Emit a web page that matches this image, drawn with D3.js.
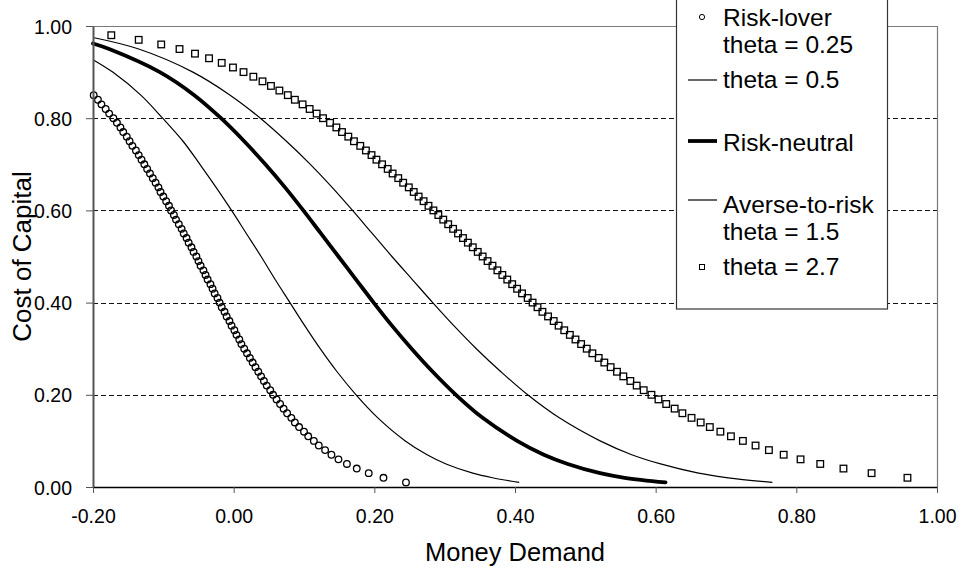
<!DOCTYPE html>
<html>
<head>
<meta charset="utf-8">
<script src="https://d3js.org/d3.v7.min.js"></script>
<style>
  body { margin: 0; background: #fff; }
  svg text { font-family: "Liberation Sans", Arial, Helvetica, sans-serif; fill: #000; }
</style>
</head>
<body>
<svg id="chart" width="961" height="573"></svg>
<script>
(function() {
  'use strict';

  // ---- data ----
  var xTicks = [-0.2, 0, 0.2, 0.4, 0.6, 0.8, 1.0];
  var yTicks = [0, 0.2, 0.4, 0.6, 0.8, 1.0];

  // Risk-lover, theta = 0.25 (circles)
  var loverCost = [0.85, 0.84, 0.83, 0.82, 0.81, 0.80, 0.79, 0.78, 0.77, 0.76,
    0.75, 0.74, 0.73, 0.72, 0.71, 0.70, 0.69, 0.68, 0.67, 0.66,
    0.65, 0.64, 0.63, 0.62, 0.61, 0.60, 0.59, 0.58, 0.57, 0.56,
    0.55, 0.54, 0.53, 0.52, 0.51, 0.50, 0.49, 0.48, 0.47, 0.46,
    0.45, 0.44, 0.43, 0.42, 0.41, 0.40, 0.39, 0.38, 0.37, 0.36,
    0.35, 0.34, 0.33, 0.32, 0.31, 0.30, 0.29, 0.28, 0.27, 0.26,
    0.25, 0.24, 0.23, 0.22, 0.21, 0.20, 0.19, 0.18, 0.17, 0.16,
    0.15, 0.14, 0.13, 0.12, 0.11, 0.10, 0.09, 0.08, 0.07, 0.06,
    0.05, 0.04, 0.03, 0.02, 0.01];
  var loverDemand = [-0.199, -0.193, -0.188, -0.182, -0.177, -0.171, -0.166, -0.161, -0.157, -0.152,
    -0.148, -0.144, -0.139, -0.135, -0.131, -0.127, -0.123, -0.119, -0.115, -0.111,
    -0.107, -0.104, -0.100, -0.096, -0.092, -0.089, -0.085, -0.082, -0.078, -0.074,
    -0.071, -0.067, -0.064, -0.060, -0.057, -0.053, -0.050, -0.047, -0.043, -0.040,
    -0.037, -0.033, -0.030, -0.027, -0.023, -0.020, -0.017, -0.013, -0.010, -0.006,
    -0.003, 0.001, 0.004, 0.008, 0.011, 0.015, 0.019, 0.023, 0.027, 0.031,
    0.035, 0.039, 0.043, 0.047, 0.052, 0.056, 0.061, 0.066, 0.071, 0.076,
    0.082, 0.087, 0.093, 0.100, 0.106, 0.114, 0.121, 0.130, 0.139, 0.149,
    0.161, 0.175, 0.192, 0.213, 0.245];

  // theta = 2.7 (squares)
  var squareCost = [0.98, 0.97, 0.96, 0.95, 0.94, 0.93, 0.92, 0.91, 0.90, 0.89,
    0.88, 0.87, 0.86, 0.85, 0.84, 0.83, 0.82, 0.81, 0.80, 0.79,
    0.78, 0.77, 0.76, 0.75, 0.74, 0.73, 0.72, 0.71, 0.70, 0.69,
    0.68, 0.67, 0.66, 0.65, 0.64, 0.63, 0.62, 0.61, 0.60, 0.59,
    0.58, 0.57, 0.56, 0.55, 0.54, 0.53, 0.52, 0.51, 0.50, 0.49,
    0.48, 0.47, 0.46, 0.45, 0.44, 0.43, 0.42, 0.41, 0.40, 0.39,
    0.38, 0.37, 0.36, 0.35, 0.34, 0.33, 0.32, 0.31, 0.30, 0.29,
    0.28, 0.27, 0.26, 0.25, 0.24, 0.23, 0.22, 0.21, 0.20, 0.19,
    0.18, 0.17, 0.16, 0.15, 0.14, 0.13, 0.12, 0.11, 0.10, 0.09,
    0.08, 0.07, 0.06, 0.05, 0.04, 0.03, 0.02];
  var squareDemand = [-0.174, -0.135, -0.103, -0.077, -0.055, -0.035, -0.017, -0.001, 0.014, 0.028,
    0.041, 0.053, 0.065, 0.077, 0.087, 0.098, 0.108, 0.118, 0.127, 0.137,
    0.146, 0.154, 0.163, 0.171, 0.180, 0.188, 0.196, 0.203, 0.211, 0.219,
    0.226, 0.234, 0.241, 0.249, 0.256, 0.263, 0.270, 0.277, 0.284, 0.291,
    0.298, 0.305, 0.312, 0.319, 0.326, 0.333, 0.340, 0.347, 0.354, 0.361,
    0.368, 0.375, 0.382, 0.389, 0.396, 0.403, 0.410, 0.418, 0.425, 0.432,
    0.439, 0.447, 0.455, 0.462, 0.470, 0.478, 0.486, 0.494, 0.502, 0.510,
    0.519, 0.527, 0.536, 0.545, 0.554, 0.564, 0.573, 0.583, 0.594, 0.604,
    0.615, 0.627, 0.638, 0.651, 0.664, 0.677, 0.692, 0.707, 0.724, 0.742,
    0.761, 0.782, 0.806, 0.834, 0.867, 0.907, 0.958];

  // thin line, left of the risk-neutral curve
  var thinLeftCost = [0.927, 0.90, 0.85, 0.80, 0.75, 0.70, 0.65, 0.60, 0.55, 0.50,
    0.45, 0.40, 0.35, 0.30, 0.25, 0.20, 0.15, 0.10, 0.07, 0.05, 0.03, 0.02, 0.01];
  var thinLeftDemand = [-0.200, -0.172, -0.132, -0.101, -0.072, -0.048, -0.025, -0.003, 0.018, 0.039,
    0.059, 0.080, 0.101, 0.123, 0.147, 0.174, 0.205, 0.244, 0.275, 0.302, 0.340, 0.368, 0.406];

  // Risk-neutral (thick line)
  var neutralCost = [0.962, 0.95, 0.90, 0.85, 0.80, 0.75, 0.70, 0.65, 0.60, 0.55, 0.50,
    0.45, 0.40, 0.35, 0.30, 0.25, 0.20, 0.15, 0.10, 0.07, 0.05, 0.03, 0.02, 0.01];
  var neutralDemand = [-0.200, -0.177, -0.105, -0.056, -0.018, 0.015, 0.045, 0.073, 0.099, 0.124, 0.149,
    0.174, 0.199, 0.225, 0.253, 0.283, 0.316, 0.354, 0.403, 0.441, 0.475, 0.521, 0.556, 0.614];

  // thin line, right of the risk-neutral curve
  var thinRightCost = [0.975, 0.95, 0.90, 0.85, 0.80, 0.75, 0.70, 0.65, 0.60, 0.55, 0.50,
    0.45, 0.40, 0.35, 0.30, 0.25, 0.20, 0.15, 0.10, 0.07, 0.05, 0.03, 0.02, 0.01];
  var thinRightDemand = [-0.200, -0.135, -0.058, -0.005, 0.038, 0.075, 0.109, 0.140, 0.169, 0.197, 0.225,
    0.254, 0.283, 0.313, 0.345, 0.380, 0.418, 0.463, 0.521, 0.566, 0.607, 0.661, 0.703, 0.766];

  var legendLabels = [
    ['Risk-lover', 'theta = 0.25'],
    ['theta = 0.5'],
    ['Risk-neutral'],
    ['Averse-to-risk', 'theta = 1.5'],
    ['theta = 2.7']
  ];

  var zip = function(xs, ys) {
    return xs.map(function(x, i) { return [x, ys[i]]; });
  };

  // ---- layout ----
  var svg = d3.select('#chart');
  var left = 93, right = 937, top = 26, bottom = 487;

  var x = d3.scaleLinear().domain([-0.2, 1.0]).range([left, right]);
  var y = d3.scaleLinear().domain([0, 1]).range([bottom, top]);
  var crisp = function(v) { return Math.round(v) + 0.5; };

  // gridlines
  svg.append('g')
    .selectAll('line')
    .data(yTicks.filter(function(d) { return d > 0 && d < 1; }))
    .enter().append('line')
    .attr('x1', left).attr('x2', right)
    .attr('y1', function(d) { return crisp(y(d)); })
    .attr('y2', function(d) { return crisp(y(d)); })
    .attr('stroke', '#111')
    .attr('stroke-width', 1)
    .attr('stroke-dasharray', '5,3');

  // top and right frame of the plot area
  svg.append('line')
    .attr('x1', left).attr('x2', right).attr('y1', crisp(y(1))).attr('y2', crisp(y(1)))
    .attr('stroke', '#7a7a7a').attr('stroke-width', 1.2);
  svg.append('line')
    .attr('x1', crisp(right)).attr('x2', crisp(right)).attr('y1', y(1)).attr('y2', bottom)
    .attr('stroke', '#7a7a7a').attr('stroke-width', 1.2);

  // curves
  var line = d3.line()
    .x(function(d) { return x(d[0]); })
    .y(function(d) { return y(d[1]); })
    .curve(d3.curveCatmullRom);

  svg.append('path')
    .datum(zip(thinLeftDemand, thinLeftCost))
    .attr('d', line)
    .attr('fill', 'none').attr('stroke', '#000').attr('stroke-width', 1.2);

  svg.append('path')
    .datum(zip(thinRightDemand, thinRightCost))
    .attr('d', line)
    .attr('fill', 'none').attr('stroke', '#000').attr('stroke-width', 1.2);

  svg.append('path')
    .datum(zip(neutralDemand, neutralCost))
    .attr('d', line)
    .attr('fill', 'none').attr('stroke', '#000').attr('stroke-width', 3.8)
    .attr('stroke-linecap', 'round');

  // markers
  svg.append('g')
    .selectAll('circle')
    .data(zip(loverDemand, loverCost))
    .enter().append('circle')
    .attr('cx', function(d) { return x(d[0]); })
    .attr('cy', function(d) { return y(d[1]); })
    .attr('r', 3.3)
    .attr('fill', 'none')
    .attr('stroke', '#000')
    .attr('stroke-width', 1.3);

  var sq = 6.6;
  svg.append('g')
    .selectAll('rect')
    .data(zip(squareDemand, squareCost))
    .enter().append('rect')
    .attr('x', function(d) { return x(d[0]) - sq / 2; })
    .attr('y', function(d) { return y(d[1]) - sq / 2; })
    .attr('width', sq).attr('height', sq)
    .attr('fill', 'none')
    .attr('stroke', '#000')
    .attr('stroke-width', 1.3);

  // axes
  var fmt = function(d) { return d.toFixed(2); };

  var yAxis = svg.append('g')
    .attr('transform', 'translate(' + left + ',0)')
    .call(d3.axisLeft(y).tickValues(yTicks).tickFormat(fmt).tickSize(7).tickSizeOuter(0).tickPadding(14));
  yAxis.select('.domain').attr('stroke', '#555').attr('stroke-width', 2);
  yAxis.selectAll('.tick line').attr('stroke', '#555');
  yAxis.selectAll('.tick text')
    .style('font-size', '19.5px')
    .attr('dy', '0.36em');

  var xAxis = svg.append('g')
    .attr('transform', 'translate(0,' + bottom + ')')
    .call(d3.axisBottom(x).tickValues(xTicks).tickFormat(fmt).tickSize(6).tickSizeOuter(0).tickPadding(16));
  xAxis.select('.domain').attr('stroke', '#000').attr('stroke-width', 1.6);
  xAxis.selectAll('.tick line').attr('stroke', '#555');
  xAxis.selectAll('.tick text')
    .style('font-size', '19.5px');

  // axis titles
  svg.append('text')
    .attr('x', (left + right) / 2)
    .attr('y', 561)
    .attr('text-anchor', 'middle')
    .style('font-size', '25.5px')
    .text('Money Demand');

  svg.append('text')
    .attr('transform', 'translate(31,' + ((top + bottom) / 2) + ') rotate(-90)')
    .attr('text-anchor', 'middle')
    .style('font-size', '26px')
    .text('Cost of Capital');

  // legend
  var legend = svg.append('g');
  legend.append('rect')
    .attr('x', 676.5).attr('y', -2)
    .attr('width', 211).attr('height', 311)
    .attr('fill', '#fff')
    .attr('stroke', '#333')
    .attr('stroke-width', 1.2);

  var textX = 723;
  var rows = [
    { baselines: [26, 53], mark: 'circle', my: 17 },
    { baselines: [88], mark: 'thin', my: 80 },
    { baselines: [151], mark: 'thick', my: 141 },
    { baselines: [213, 240], mark: 'thin', my: 200 },
    { baselines: [275], mark: 'square', my: 267 }
  ];

  rows.forEach(function(r, i) {
    if (r.mark === 'circle') {
      legend.append('circle')
        .attr('cx', 702).attr('cy', r.my).attr('r', 2.6)
        .attr('fill', 'none').attr('stroke', '#000').attr('stroke-width', 1);
    } else if (r.mark === 'square') {
      legend.append('rect')
        .attr('x', 699.5).attr('y', r.my - 2.5).attr('width', 5).attr('height', 5)
        .attr('fill', 'none').attr('stroke', '#000').attr('stroke-width', 1);
    } else {
      legend.append('line')
        .attr('x1', 688).attr('x2', 717)
        .attr('y1', r.my).attr('y2', r.my)
        .attr('stroke', '#000')
        .attr('stroke-width', r.mark === 'thick' ? 3.8 : 1.2);
    }
    legendLabels[i].forEach(function(label, j) {
      legend.append('text')
        .attr('x', textX)
        .attr('y', r.baselines[j])
        .style('font-size', '24.5px')
        .text(label);
    });
  });
})();
</script>
</body>
</html>
